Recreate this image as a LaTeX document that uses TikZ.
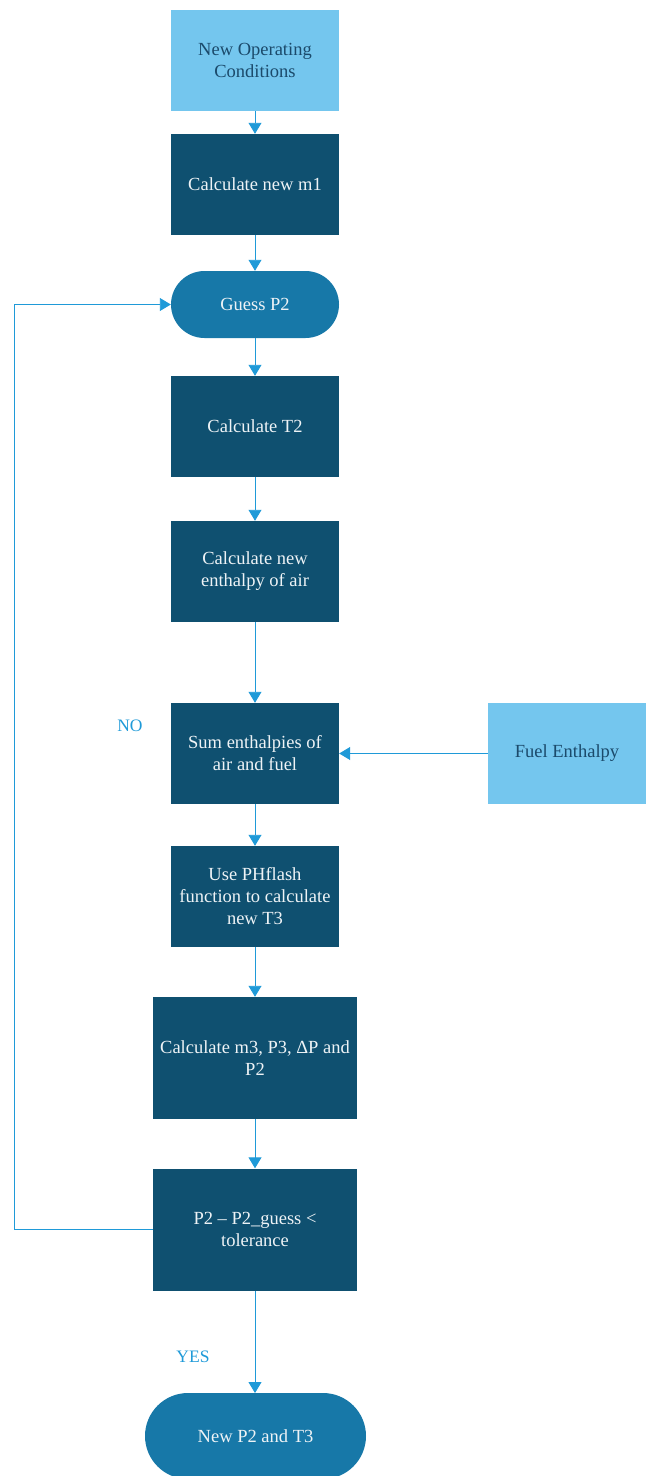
\documentclass[tikz,border=0pt]{standalone}
\usepackage{fontspec}
\setmainfont{Liberation Serif}
\usetikzlibrary{arrows.meta}
\definecolor{lightb}{HTML}{74C6EE}
\definecolor{darkb}{HTML}{0F5070}
\definecolor{midb}{HTML}{1778A8}
\definecolor{linec}{HTML}{1F9AD8}
\definecolor{darktxt}{HTML}{1B4A6B}
\definecolor{lighttxt}{HTML}{EEF3F6}
\tikzset{
  base/.style={rectangle, inner sep=2pt, align=center, font=\fontsize{18.5}{22}\selectfont},
  lightbox/.style={base, fill=lightb, text=darktxt, minimum width=168pt, minimum height=101pt},
  darkbox/.style={base, fill=darkb, text=lighttxt, minimum width=168pt, minimum height=101pt},
  widebox/.style={base, fill=darkb, text=lighttxt, minimum width=204pt, minimum height=122pt},
  term/.style={base, fill=midb, text=lighttxt},
  conn/.style={draw=linec, line width=0.9pt, -{Triangle[width=13pt,length=11pt]}},
  lbl/.style={text=linec, font=\fontsize{17.5}{20}\selectfont}
}
\begin{document}
\begin{tikzpicture}[x=1pt,y=-1pt]
\useasboundingbox (0,0) rectangle (646,1476);
\node[lightbox] (noc) at (255,60.5) {New Operating\\Conditions};
\node[darkbox] (m1) at (255,184.5) {Calculate new m1};
\node[term, minimum width=168pt, minimum height=67pt, rounded corners=33.5pt] (guess) at (255,304.5) {Guess P2};
\node[darkbox] (t2) at (255,426.5) {Calculate T2};
\node[darkbox] (air) at (255,571.5) {Calculate new\\enthalpy of air};
\node[darkbox] (sum) at (255,753.5) {Sum enthalpies of\\air and fuel};
\node[lightbox, minimum width=158pt] (fuel) at (567,753.5) {Fuel Enthalpy};
\node[darkbox] (ph) at (255,896.5) {Use PHflash\\function to calculate\\new T3};
\node[widebox] (m3) at (255,1058) {Calculate m3, P3, ΔP and\\P2};
\node[widebox] (tol) at (255,1229.5) {P2 – P2\_guess <\\tolerance};
\begin{scope}
\clip (0,0) rectangle (646,1476);
\node[term, minimum width=221pt, minimum height=86pt, rounded corners=43pt] (end) at (255.5,1436) {New P2 and T3};
\end{scope}
\node[lbl] (no) at (130,726) {NO};
\node[lbl] (yes) at (193,1357) {YES};
\coordinate (lp) at (14,1229.5);
\draw[conn] (noc) -- (m1);
\draw[conn] (m1) -- (guess);
\draw[conn] (guess) -- (t2);
\draw[conn] (t2) -- (air);
\draw[conn] (air) -- (sum);
\draw[conn] (fuel) -- (sum);
\draw[conn] (sum) -- (ph);
\draw[conn] (ph) -- (m3);
\draw[conn] (m3) -- (tol);
\draw[conn] (tol.south) -- (255,1393);
\draw[conn] (tol.west) -- (lp) |- (guess.west);
\end{tikzpicture}
\end{document}
